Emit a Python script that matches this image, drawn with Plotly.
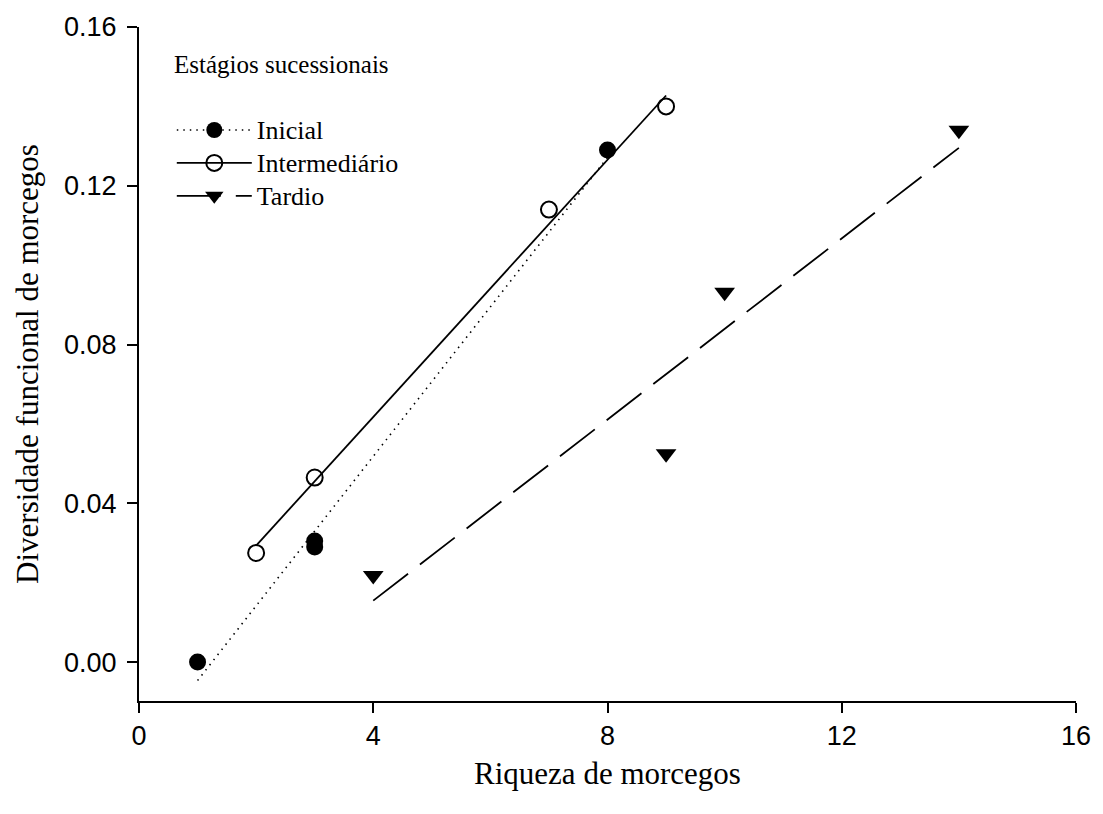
import numpy as np
import plotly.graph_objects as go

# Riqueza de morcegos (x) e diversidade funcional (y) por estágio sucessional
inicial_x = [1, 3, 3, 8]
inicial_y = [0.000, 0.029, 0.0305, 0.129]

intermediario_x = [2, 3, 7, 9]
intermediario_y = [0.0275, 0.0465, 0.114, 0.140]

tardio_x = [4, 9, 10, 14]
tardio_y = [0.0218, 0.0525, 0.0932, 0.134]

x_ticks = [0, 4, 8, 12, 16]
y_ticks = [0.00, 0.04, 0.08, 0.12, 0.16]

SERIF = "Times New Roman, Liberation Serif, serif"
SANS = "Arial, Liberation Sans, sans-serif"

groups = [
    dict(name="Inicial", x=inicial_x, y=inicial_y,
         marker=dict(symbol="circle", size=17, color="black"),
         line=dict(color="black", width=1.6, dash="1.5px,5px")),
    dict(name="Intermediário", x=intermediario_x, y=intermediario_y,
         marker=dict(symbol="circle-open", size=16, color="black",
                     line=dict(width=2, color="black")),
         line=dict(color="black", width=1.8, dash="solid")),
    dict(name="Tardio", x=tardio_x, y=tardio_y,
         marker=dict(symbol="triangle-down", size=18, color="black"),
         line=dict(color="black", width=1.8, dash="44px,15px")),
]

fig = go.Figure()
for g in groups:
    # linear regression line over the observed richness range
    slope, intercept = np.polyfit(g["x"], g["y"], 1)
    fx = np.array([min(g["x"]), max(g["x"])], dtype=float)
    fig.add_trace(go.Scatter(x=fx, y=slope * fx + intercept, mode="lines",
                             line=g["line"], showlegend=False,
                             legendgroup=g["name"], hoverinfo="skip"))
    fig.add_trace(go.Scatter(x=g["x"], y=g["y"], mode="markers",
                             marker=g["marker"], showlegend=False,
                             legendgroup=g["name"], name=g["name"]))
    # legend entry showing line style with marker (slightly larger label text,
    # compact row spacing)
    fig.add_trace(go.Scatter(x=[None], y=[None], mode="lines+markers",
                             line=g["line"], marker=g["marker"],
                             name='<span style="font-size:26px">%s</span>' % g["name"],
                             legendgroup=g["name"]))

fig.add_annotation(text="Estágios sucessionais", xref="paper", yref="paper",
                   x=0.035, y=0.944, xanchor="left", yanchor="middle",
                   showarrow=False, font=dict(family=SERIF, size=25, color="black"))

axis_common = dict(showline=True, linecolor="black", linewidth=2,
                   ticks="outside", ticklen=10, tickwidth=2, tickcolor="black",
                   showgrid=False, zeroline=False, mirror=False,
                   tickfont=dict(family=SANS, size=27, color="black"))

fig.update_layout(
    width=1103, height=814,
    margin=dict(l=139, r=27, t=25, b=113),
    plot_bgcolor="white", paper_bgcolor="white",
    xaxis=dict(range=[0, 16], tickvals=x_ticks, ticklabelstandoff=0,
               **axis_common,
               title=dict(text="Riqueza de morcegos", standoff=12,
                          font=dict(family=SERIF, size=31, color="black"))),
    yaxis=dict(range=[-0.0098, 0.16], tickvals=y_ticks, tickformat=".2f",
               ticklabelstandoff=5, **axis_common,
               title=dict(text="Diversidade funcional de morcegos", standoff=16,
                          font=dict(family=SERIF, size=31, color="black"))),
    legend=dict(x=0.035, y=0.879, xanchor="left", yanchor="top",
                bgcolor="rgba(0,0,0,0)", itemwidth=75,
                font=dict(family=SERIF, size=23, color="black"),
                tracegroupgap=0),
    showlegend=True,
)

fig.write_html("out.html")
